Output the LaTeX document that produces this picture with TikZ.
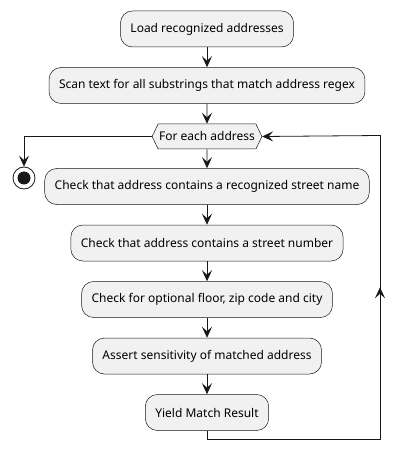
\documentclass[tikz,border=0pt]{standalone}
\usepackage{fontspec}
\setmainfont{Noto Sans}
\usetikzlibrary{shapes.symbols,arrows.meta,positioning,calc}
\definecolor{boxfill}{HTML}{F1F1F1}
\definecolor{linecol}{HTML}{181818}

\begin{document}
\begin{tikzpicture}[x=1pt, y=-1pt, node distance=20pt,
    action/.style={draw=linecol, line width=0.5pt, fill=boxfill, rectangle, rounded corners=12pt,
      minimum height=36pt, inner xsep=10pt, font=\fontsize{12}{14}\selectfont},
    loopbox/.style={draw=linecol, line width=0.5pt, fill=boxfill, signal, signal to=west and east,
      signal pointer angle=129, minimum height=25pt, inner xsep=1pt, inner ysep=6pt,
      font=\fontsize{12}{14}\selectfont},
    flow/.style={draw=linecol, line width=0.8pt, -{Stealth[length=11pt, width=10pt, inset=4.5pt]}},
    wire/.style={draw=linecol, line width=0.8pt}]
    \useasboundingbox (0,0) rectangle (405,462);

    \node (load) [action] at (207,29) {Load recognized addresses};
    \node (scan) [action, below=of load] {Scan text for all substrings that match address regex};
    \node (each) [loopbox, below=of scan] {For each address};
    \node (street) [action, below=19pt of each] {Check that address contains a recognized street name};
    \node (number) [action, below=of street] {Check that address contains a street number};
    \node (optional) [action, below=of number] {Check for optional floor, zip code and city};
    \node (assert) [action, below=of optional] {Assert sensitivity of matched address};
    \node (yield) [action, below=of assert] {Yield Match Result};

    \node (stop) [circle, draw=linecol, line width=0.8pt, minimum size=22pt, inner sep=0pt] at (24,178) {};
    \fill[linecol] (stop) circle (6.5pt);

    \coordinate (backBot) at (380,439);
    \coordinate (backTop) at (380,135.5);

    \draw [flow] (load) -- (scan);
    \draw [flow] (scan) -- (each);
    \draw [flow] (each) -- (street);
    \draw [flow] (street) -- (number);
    \draw [flow] (number) -- (optional);
    \draw [flow] (optional) -- (assert);
    \draw [flow] (assert) -- (yield);
    \draw [flow] (each.west) -| (stop.north);

    % loop back
    \draw [wire] (yield.south) |- (backBot) -- (backTop);
    \draw [flow] (backTop) -- (each.east);
    \draw [flow] (backBot) -- ($(backBot)!0.5!(backTop)$);
\end{tikzpicture}
\end{document}
